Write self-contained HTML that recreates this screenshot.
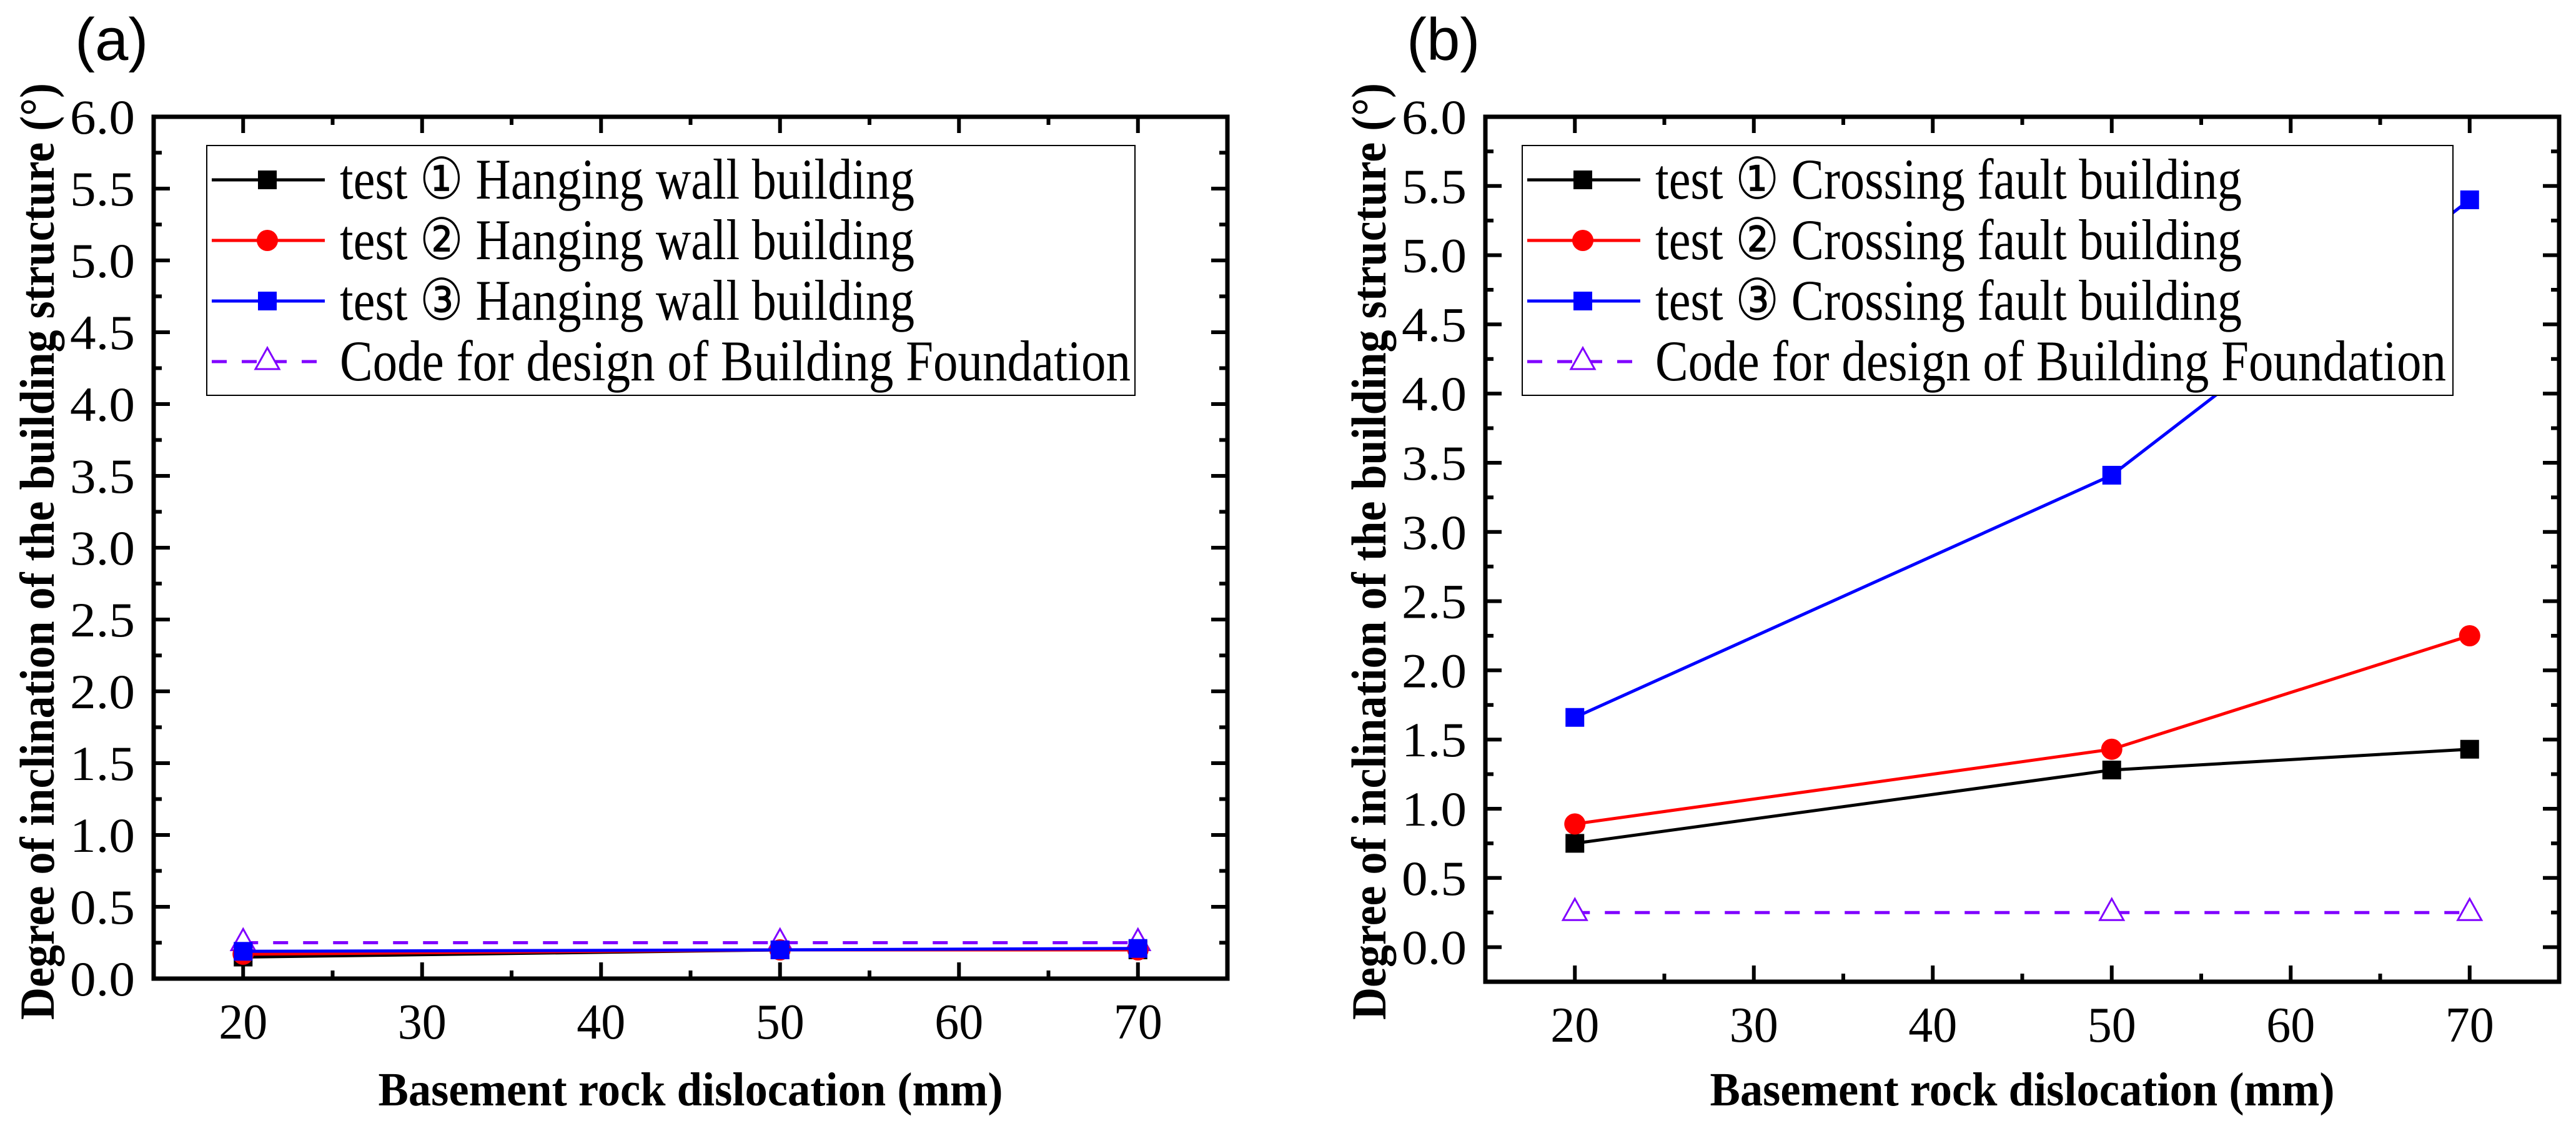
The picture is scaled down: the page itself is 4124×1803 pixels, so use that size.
<!DOCTYPE html>
<html><head><meta charset="utf-8"><style>
html,body{margin:0;padding:0;background:#fff;}
svg{display:block;}
</style></head><body>
<svg id="chart" width="4124" height="1803" viewBox="0 0 4124 1803" xmlns="http://www.w3.org/2000/svg" font-family="'Liberation Serif', serif">
<rect width="4124" height="1803" fill="#fff"/>
</svg>
<script>
const xCategories = [20, 50, 70];
const xTicks = [20, 30, 40, 50, 60, 70];
const yTicks = [0, 0.5, 1, 1.5, 2, 2.5, 3, 3.5, 4, 4.5, 5, 5.5, 6];
const yTickLabels = ["0.0","0.5","1.0","1.5","2.0","2.5","3.0","3.5","4.0","4.5","5.0","5.5","6.0"];
const aTest1 = [0.15, 0.20, 0.20];
const aTest2 = [0.17, 0.20, 0.20];
const aTest3 = [0.19, 0.20, 0.21];
const aCode = [0.25, 0.25, 0.25];
const bTest1 = [0.75, 1.28, 1.43];
const bTest2 = [0.89, 1.43, 2.25];
const bTest3 = [1.66, 3.41, 5.40];
const bCode = [0.25, 0.25, 0.25];
const aLegend = ["test \u2460 Hanging wall building","test \u2461 Hanging wall building","test \u2462 Hanging wall building","Code for design of Building Foundation"];
const bLegend = ["test \u2460 Crossing fault building","test \u2461 Crossing fault building","test \u2462 Crossing fault building","Code for design of Building Foundation"];

const NS = "http://www.w3.org/2000/svg";
const svg = document.getElementById('chart');
function mk(tag, attrs, parent, text){
  const e = document.createElementNS(NS, tag);
  for (const k in attrs) e.setAttribute(k, attrs[k]);
  if (text !== undefined) e.textContent = text;
  (parent||svg).appendChild(e);
  return e;
}
function marker(g, kind, color, cx, cy){
  let m;
  if (kind === 'square') m = mk('rect', {x:cx-15, y:cy-15, width:30, height:30, fill:color}, g);
  else if (kind === 'circle') m = mk('circle', {cx:cx, cy:cy, r:17, fill:color}, g);
  else m = mk('polygon', {points:`${cx},${cy-22} ${cx-19},${cy+12} ${cx+19},${cy+12}`, fill:'#fff', stroke:color, 'stroke-width':3}, g);
  return m;
}
function panel(P){
  const g = mk('g', {});
  
  
  const xs = v => P.L + (v - 15) / 60 * (P.R - P.L);
  const ys = v => P.B - (v - P.ymin) / (6 - P.ymin) * (P.B - P.T);
  const tg = mk('g', {stroke:'#000', 'stroke-width':6}, g);
  
  
  for (let v = 20; v <= 70; v += 5){
    const len = (v % 10 === 0) ? 26 : 13;
    mk('line', {x1:xs(v), x2:xs(v), y1:P.B, y2:P.B-len}, tg);
    mk('line', {x1:xs(v), x2:xs(v), y1:P.T, y2:P.T+len}, tg);
  }
  for (let v = 0; v <= 6.001; v += 0.25){
    const major = Math.abs(v*2 - Math.round(v*2)) < 1e-6;
    const len = major ? 26 : 13;
    mk('line', {x1:P.L, x2:P.L+len, y1:ys(v), y2:ys(v)}, tg);
    mk('line', {x1:P.R, x2:P.R-len, y1:ys(v), y2:ys(v)}, tg);
  }
  xTicks.forEach(v => {
    const t = mk('text', {x:xs(v), y:P.B+96, 'font-size':80, 'text-anchor':'middle', textLength:78, lengthAdjust:'spacingAndGlyphs', fill:'#000'}, g, String(v));
    
    
  });
  yTicks.forEach((v, i) => {
    const t = mk('text', {x:P.L-30, y:ys(v)+27, 'font-size':78, 'text-anchor':'end', textLength:104, lengthAdjust:'spacingAndGlyphs', fill:'#000'}, g, yTickLabels[i]);
    
    
  });
  const fr = mk('rect', {x:P.L, y:P.T, width:P.R-P.L, height:P.B-P.T, fill:'none', stroke:'#000', 'stroke-width':7}, g);
  
  
  const series = [
    {vals:P.s1, color:'#000', kind:'square', dash:null, name:'series-test1'},
    {vals:P.s2, color:'#ff0000', kind:'circle', dash:null, name:'series-test2'},
    {vals:P.s3, color:'#0000ff', kind:'square', dash:null, name:'series-test3'},
    {vals:P.s4, color:'#8000ff', kind:'triangle', dash:'24 24', name:'series-code-limit'}
  ];
  [3,0,1,2].forEach(i => {
    const s = series[i];
    const sg = mk('g', {}, g);
    
    
    const pts = s.vals.map((v, j) => `${xs(xCategories[j])},${ys(v)}`).join(' ');
    const attrs = {points:pts, fill:'none', stroke:s.color, 'stroke-width':5};
    if (s.dash) attrs['stroke-dasharray'] = s.dash;
    mk('polyline', attrs, sg);
    s.vals.forEach((v, j) => {
      const m = marker(sg, s.kind, s.color, xs(xCategories[j]), ys(v));
      
      
    });
  });
  const lg = mk('g', {}, g);
  
  
  mk('rect', {x:P.lx, y:233, width:P.lw, height:400, fill:'#fff', stroke:'#000', 'stroke-width':2}, lg);
  const rows = [288, 385, 482, 579];
  series.forEach((s, i) => {
    const eg = mk('g', {}, lg);
    
    
    const la = {x1:P.lx+8, x2:P.lx+189, y1:rows[i], y2:rows[i], stroke:s.color, 'stroke-width':5};
    if (s.dash) la['stroke-dasharray'] = '24 24';
    mk('line', la, eg);
    marker(eg, s.kind, s.color, P.lx+97, rows[i]);
    const tl = i < 3 ? P.tw : 1266;
    mk('text', {x:P.lx+213, y:rows[i]+30, 'font-size':92, textLength:tl, lengthAdjust:'spacingAndGlyphs', fill:'#000'}, eg, P.legend[i]);
  });
  const xt = mk('text', {x:(P.L+P.R)/2, y:1770, 'font-size':76, 'font-weight':'bold', 'text-anchor':'middle', textLength:1000, lengthAdjust:'spacingAndGlyphs', fill:'#000'}, g, 'Basement rock dislocation (mm)');
  
  
  const yt = mk('text', {x:0, y:0, 'font-size':78, 'font-weight':'bold', 'text-anchor':'middle', textLength:1500, lengthAdjust:'spacingAndGlyphs', fill:'#000', transform:`translate(${P.L-160},883) rotate(-90)`}, g, 'Degree of inclination of the building structure (\u00b0)');
  
  
  const pl = mk('text', {x:P.L-126, y:96, 'font-size':96, 'font-family':"'Liberation Sans', sans-serif", fill:'#000'}, g, P.label);
  
  
}
panel({name:'panel-a', label:'(a)', L:246, R:1965, T:187, B:1567, ymin:0, s1:aTest1, s2:aTest2, s3:aTest3, s4:aCode, legend:aLegend, lx:331, lw:1486, tw:920});
panel({name:'panel-b', label:'(b)', L:2378, R:4097, T:187, B:1572, ymin:-0.25, s1:bTest1, s2:bTest2, s3:bTest3, s4:bCode, legend:bLegend, lx:2437, lw:1490, tw:939});
</script>
</body></html>
